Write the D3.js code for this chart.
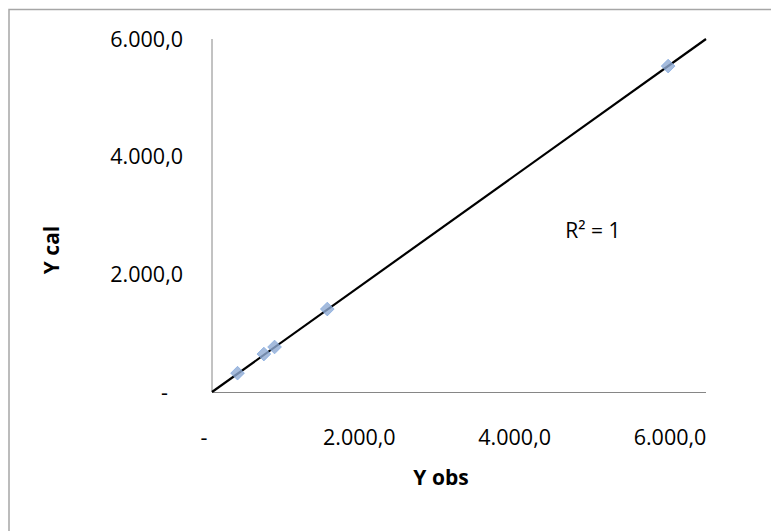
<!DOCTYPE html>
<html>
<head>
<meta charset="utf-8">
<script src="https://cdn.jsdelivr.net/npm/d3@7"></script>
<style>
  body { margin: 0; background: #fff; }
  text { font-family: "Open Sans", "Lato", sans-serif; fill: #000; }
</style>
</head>
<body>
<svg id="chart" width="771" height="531"></svg>
<script>
// observed vs calculated values
const yObs = [310, 630, 760, 1400, 5540];
const yCal = [320, 645, 765, 1410, 5540];
const tickValues = [0, 2000, 4000, 6000];
const trend = [[0, 0], [6000, 6000]];
const rSquared = 'R² = 1';

const svg = d3.select('#chart');
const margin = {left: 212, top: 39, right: 65, bottom: 139};
const w = 771 - margin.left - margin.right;
const h = 531 - margin.top - margin.bottom;

const fmt = v => v === 0 ? '-' : d3.formatLocale({decimal: ',', thousands: '.', grouping: [3]}).format(',.1f')(v);

// chart frame
svg.append('rect').attr('x', 9).attr('y', 9.5).attr('width', 900).attr('height', 700)
  .attr('fill', 'none').attr('stroke', '#a6a6a6').attr('stroke-width', 1.5);

const x = d3.scaleLinear().domain([0, 6000]).range([0, w]);
const y = d3.scaleLinear().domain([0, 6000]).range([h, 0]);
// excel places the x labels a bit left of the ticks
const xLabel = d3.scaleLinear().domain([0, 6000]).range([-8, w - 36]);

const g = svg.append('g').attr('transform', `translate(${margin.left},${margin.top})`);

g.append('line').attr('x1', 0).attr('x2', 0).attr('y1', 0).attr('y2', h)
  .attr('stroke', '#868686');
g.append('line').attr('x1', 0).attr('x2', w).attr('y1', h + 0.5).attr('y2', h + 0.5)
  .attr('stroke', '#868686');

g.selectAll('.ylab').data(tickValues).enter().append('text').classed('ylab', true)
  .attr('x', d => d === 0 ? -44 : -29)
  .attr('y', d => y(d))
  .attr('dy', '0.35em')
  .attr('text-anchor', 'end')
  .style('font-size', '21.5px')
  .text(fmt);

g.selectAll('.xlab').data(tickValues).enter().append('text').classed('xlab', true)
  .attr('x', d => xLabel(d))
  .attr('y', h + 45)
  .attr('dy', '0.35em')
  .attr('text-anchor', 'middle')
  .style('font-size', '21.5px')
  .text(fmt);

const line = d3.line().x(d => x(d[0])).y(d => y(d[1]));
g.append('path').datum(trend).attr('d', line)
  .attr('fill', 'none').attr('stroke', '#000').attr('stroke-width', 2.2);

const diamond = d3.symbol().type(d3.symbolDiamond2).size(120);
g.selectAll('.pt').data(yObs).enter().append('path').classed('pt', true)
  .attr('d', diamond)
  .attr('transform', (d, i) => `translate(${x(d)},${y(yCal[i])})`)
  .attr('fill', '#8eaad3').attr('fill-opacity', 0.8)
  .attr('stroke', '#7ea6e0').attr('stroke-opacity', 0.7).attr('stroke-width', 1);

g.append('text').attr('x', x(4290)).attr('y', y(2750)).attr('dy', '0.35em')
  .style('font-size', '21px').text(rSquared);

svg.append('text').attr('x', 441).attr('y', 478).attr('dy', '0.35em')
  .attr('text-anchor', 'middle').style('font-size', '21px').style('font-weight', 'bold')
  .text('Y obs');
svg.append('text').attr('transform', 'translate(52,250) rotate(-90)').attr('dy', '0.35em')
  .attr('text-anchor', 'middle').style('font-size', '21px').style('font-weight', 'bold')
  .text('Y cal');
</script>
</body>
</html>
